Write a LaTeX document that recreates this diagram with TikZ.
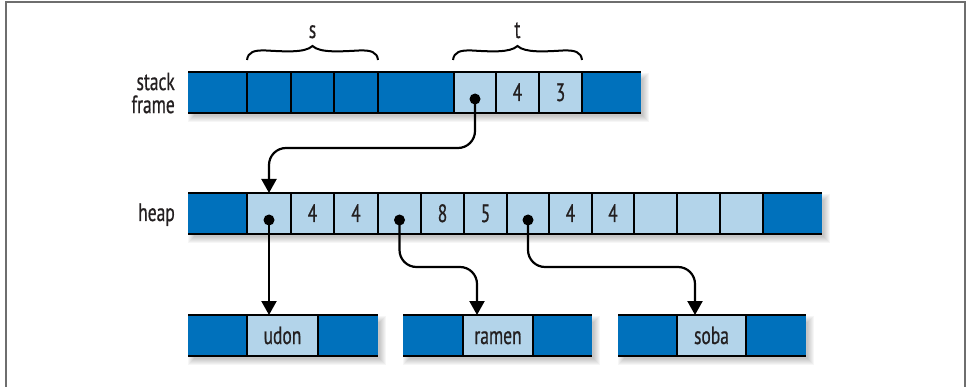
\documentclass[tikz,border=0pt]{standalone}
\usepackage{fontspec}
\setmainfont{PT Sans}[FakeStretch=0.7, FakeBold=0.6]
\usetikzlibrary{arrows.meta,calc}
\definecolor{dkblue}{RGB}{0,113,188}
\definecolor{ltblue}{RGB}{179,212,234}
\definecolor{ink}{RGB}{35,31,32}
\definecolor{framec}{RGB}{110,110,110}
\newcommand\rowshadow[4]{%
  \foreach \e in {-2,...,4}{\fill[black, opacity=0.035] (#1+4-\e, #3+5-\e) rectangle (#2+4+\e, #4+5+\e);}}
\begin{document}
\begin{tikzpicture}[x=1pt,y=-1pt,
  cell/.style={inner sep=0pt, outer sep=0pt, minimum height=41pt, text height=17pt, text depth=0pt,
    anchor=north west, font=\fontsize{25}{26}\selectfont, text=ink},
  dk/.style={cell, fill=dkblue},
  lt/.style={cell, fill=ltblue},
  rowline/.style={line width=2.6pt, black},
  divline/.style={line width=2.2pt, black},
  conn/.style={line width=2.2pt, black, rounded corners=17pt, -{Triangle[width=15pt,length=14pt]}},
  dot/.style={circle, fill=black, inner sep=0pt, minimum size=11pt},
  lbl/.style={font=\fontsize{25}{23}\selectfont, text=ink, inner sep=0pt},
  bracec/.style={line width=2pt, black},
  framel/.style={line width=1.6pt, framec},
]
\useasboundingbox (0,0) rectangle (968,387);
\draw[framel] (6,387) -- (6,2) -- (965,2) -- (965,387);

% shadows
\rowshadow{188}{641}{72}{113}
\rowshadow{188}{822}{193}{234}
\rowshadow{188}{378}{315}{356}
\rowshadow{403}{592}{315}{356}
\rowshadow{618}{806}{315}{356}

% stack frame row
\foreach \n/\a/\b/\s/\t in {s1/188/247/dk/, s2/247/291/dk/, s3/291/334/dk/, s4/334/378/dk/,
  s5/378/454/dk/, s6/454/496/lt/, s7/496/539/lt/4, s8/539/582/lt/3, s9/582/641/dk/}
  {\node[style=\s, minimum width=\b-\a] (\n) at (\a,72) {\t};}
\foreach \n in {s2,s3,s4,s5,s6,s7,s8,s9}
  {\draw[divline] (\n.north west) -- (\n.south west);}
\draw[rowline] (s1.north west) -- (s9.north east);
\draw[rowline] (s1.south west) -- (s9.south east);

% heap row
\foreach \n/\a/\b/\s/\t in {h1/188/247/dk/, h2/247/291/lt/, h3/291/334/lt/4, h4/334/378/lt/4,
  h5/378/421/lt/, h6/421/464/lt/8, h7/464/507/lt/5, h8/507/549/lt/, h9/549/592/lt/4,
  h10/592/634/lt/4, h11/634/677/lt/, h12/677/720/lt/, h13/720/763/lt/, h14/763/822/dk/}
  {\node[style=\s, minimum width=\b-\a] (\n) at (\a,193) {\t};}
\foreach \n in {h2,h3,h4,h5,h6,h7,h8,h9,h10,h11,h12,h13,h14}
  {\draw[divline] (\n.north west) -- (\n.south west);}
\draw[rowline] (h1.north west) -- (h14.north east);
\draw[rowline] (h1.south west) -- (h14.south east);

% string rows
\foreach \n/\a/\b/\s/\t in {u1/188/247/dk/, u2/247/318/lt/udon, u3/318/378/dk/,
  r1/403/463/dk/, r2/463/533/lt/ramen, r3/533/592/dk/,
  b1/618/677/dk/, b2/677/746/lt/soba, b3/746/806/dk/}
  {\node[style=\s, minimum width=\b-\a] (\n) at (\a,315) {\t};}
\foreach \n in {u2,u3,r2,r3,b2,b3}
  {\draw[divline] (\n.north west) -- (\n.south west);}
\foreach \p/\q in {u1/u3, r1/r3, b1/b3}{
  \draw[rowline] (\p.north west) -- (\q.north east);
  \draw[rowline] (\p.south west) -- (\q.south east);}

% labels
\node[lbl, align=right, anchor=east] (lstack) at (175,93) {stack\\frame};
\node[lbl, anchor=base east] (lheap) at (175,221) {heap};

% braces
\draw[bracec] (247,60) .. controls (248,52) and (254,50) .. (266,50.5)
  .. controls (285,51.5) and (305,53) .. (312.5,46)
  .. controls (320,53) and (340,51.5) .. (359,50.5)
  .. controls (371,50) and (377,52) .. (378,60);
\node[lbl, anchor=base] (ls) at (312.5,38) {s};
\draw[bracec] (453,60) .. controls (454,52) and (460,50) .. (472,50.5)
  .. controls (490,51.5) and (510,53) .. (517.5,46)
  .. controls (525,53) and (545,51.5) .. (563,50.5)
  .. controls (575,50) and (581,52) .. (582,60);
\node[lbl, anchor=base] (lt) at (517.5,38) {t};

% pointers
\node[dot] (d1) at ($(s6.center)+(0,6.5)$) {};
\node[dot] (d2) at ($(h2.center)+(0,6.5)$) {};
\node[dot] (d3) at ($(h5.center)+(0,6.5)$) {};
\node[dot] (d4) at ($(h8.center)+(0,6.5)$) {};

\draw[conn] (d1.center) -- ++(0,49) -| (h2.north);
\draw[conn] (d2.center) -- (d2.center |- u2.north);
\draw[conn] (d3.center) -- ++(0,47) -| ($(r2.north west)+(14,0)$);
\draw[conn] (d4.center) -- ++(0,47) -| ($(b2.north west)+(18,0)$);
\end{tikzpicture}
\end{document}
